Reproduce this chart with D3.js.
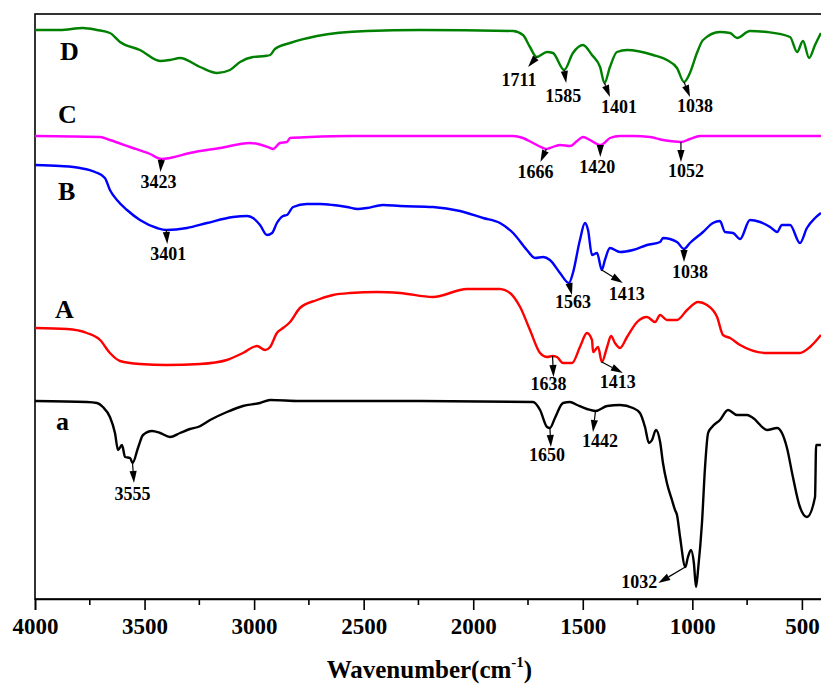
<!DOCTYPE html>
<html>
<head>
<meta charset="utf-8">
<script src="https://cdn.jsdelivr.net/npm/d3@7"></script>
<style>
  html, body { margin: 0; padding: 0; background: #fff; }
  svg { display: block; }
  text { font-family: "Liberation Serif", "Times New Roman", serif; font-weight: bold; fill: #000; }
</style>
</head>
<body>
<svg id="chart" width="821" height="689"></svg>
<script>
// FTIR spectra, offset vertically (transmittance, arbitrary units)
const seriesNames = ["D", "C", "B", "A", "a"];
const seriesColors = ["#008000", "#ff00ff", "#0000ff", "#ff0000", "#000000"];

const wnD = [4000,3886,3781,3717,3658,3612,3521,3429,3384,3338,3247,3169,3110,3064,3005,2950,2927,2905,2836,2713,2485,2243,1818,1773,1741,1711,1663,1636,1585,1545,1499,1458,1421,1401,1376,1344,1298,1179,1116,1070,1038,1011,979,951,874,828,796,737,659,554,522,495,467,440,413];
const tD  = [569,569,571,569,566,557,549,538,539,541,532,526,529,537,542,543,544,550,556,563,568,569,568,564,552,542,547,546,529,546,554,544,532,516,532,547,549,544,539,531,517,526,546,559,567,566,561,568,567,562,547,558,541,554,566];

const wnC = [4000,3703,3658,3566,3475,3423,3384,3293,3156,3019,2982,2927,2914,2882,2850,2836,2745,2562,2243,1818,1773,1727,1681,1666,1650,1604,1558,1526,1499,1467,1435,1420,1408,1376,1330,1271,1193,1134,1102,1052,1011,965,814,413];
const tC  = [463,462,459,452,445,440,441,446,451,456,455,451,450,456,457,461,462,463,463,463,461,456,451,450,451,454,453,458,462,459,455,454,455,461,463,463,462,459,458,457,460,463,463,463];

const wnB = [4000,3886,3795,3726,3681,3658,3626,3580,3521,3443,3401,3306,3215,3096,3032,3005,2973,2941,2918,2896,2868,2850,2822,2759,2699,2640,2576,2526,2485,2412,2334,2184,2060,1955,1878,1818,1755,1718,1681,1650,1604,1563,1545,1513,1490,1476,1458,1435,1413,1399,1376,1330,1271,1207,1147,1134,1070,1038,1011,951,906,874,851,814,782,737,691,645,613,591,554,509,477,440,413];
const tB  = [434,433,431,427,421,409,399,389,379,371,369,371,376,382,383,381,374,364,366,376,383,384,392,395,395,394,392,390,391,394,393,392,388,381,376,366,349,341,342,339,326,316,326,359,376,369,344,346,329,339,351,347,349,354,357,361,357,350,356,367,376,378,367,366,360,379,377,372,367,374,374,356,371,381,386];

const wnA = [4000,3854,3763,3703,3658,3612,3521,3398,3247,3124,3051,2987,2950,2927,2896,2868,2836,2791,2713,2640,2562,2439,2334,2184,2028,1878,1832,1786,1741,1695,1663,1638,1618,1590,1549,1513,1481,1458,1453,1430,1413,1389,1371,1353,1330,1298,1252,1207,1170,1147,1116,1070,1024,974,933,887,860,828,782,659,509,463,413];
const tA  = [271,270,266,259,246,238,235,234,235,239,246,253,249,252,266,271,277,291,299,304,306,307,306,302,310,310,306,292,269,246,242,243,242,236,236,252,266,259,247,252,237,252,263,256,251,262,277,282,277,284,279,279,289,297,294,282,264,261,254,246,246,252,264];

const wna = [4000,3763,3717,3690,3658,3635,3621,3603,3589,3566,3555,3530,3507,3466,3429,3384,3338,3293,3256,3201,3124,3051,2973,2927,2791,2243,1727,1695,1663,1650,1627,1590,1558,1526,1481,1442,1389,1330,1271,1239,1216,1198,1184,1166,1147,1134,1116,1093,1079,1070,1056,1032,1020,1006,993,983,974,956,942,928,910,874,837,796,750,723,659,613,591,568,541,509,477,440,435,413];
const ta  = [198,197,196,192,182,166,149,154,142,141,136,151,164,168,166,162,166,170,172,179,187,193,196,199,198,198,197,189,172,171,181,196,197,194,190,188,193,194,191,186,172,156,159,169,157,136,116,99,89,84,62,32,42,49,36,12,29,76,132,166,172,179,189,184,184,181,169,171,166,151,122,92,82,102,154,154];

// Marked absorption bands
const peakSeries = ["D","D","D","D","C","C","C","C","B","B","B","B","A","A","a","a","a","a"];
const peakWavenumbers = [1711,1585,1401,1038,3423,1666,1420,1052,3401,1563,1413,1038,1638,1413,3555,1650,1442,1032];

// Axis ticks
const majorTicks = [4000,3500,3000,2500,2000,1500,1000,500];
const minorTicks = [3750,3250,2750,2250,1750,1250,750];
const xTitle = "Wavenumber(cm";
const xTitleSup = "-1";

const seriesData = {
  D: wnD.map((w, i) => [w, tD[i]]),
  C: wnC.map((w, i) => [w, tC[i]]),
  B: wnB.map((w, i) => [w, tB[i]]),
  A: wnA.map((w, i) => [w, tA[i]]),
  a: wna.map((w, i) => [w, ta[i]])
};

// ---- layout ----
const svg = d3.select("#chart");
const plot = { left: 35, top: 14, bottom: 599 };
const x = d3.scaleLinear().domain([4000, 400]).range([plot.left, 823.8]);
const y = d3.scaleLinear().domain([0, 585]).range([plot.bottom, plot.top]);

// series letter positions (x, baseline)
const letterPos = { D: [60, 60], C: [58, 123], B: [58, 200], A: [55, 318], a: [56, 430] };

// arrow-end and label offsets from the marked point on the curve
const arrowEnd = [[-8.5,10],[2,13],[5.5,14],[6,15],[-1,13],[-6,13],[0,12],[0,20],[1,14],[3,12],[21,13],[0,13],[1,21],[21,11],[1.5,20],[1,19],[-2.5,21],[-27,16]];
const labelOff = [[-17.5,29],[-1,32],[14.5,30],[11,30],[-3,29],[-11,29],[-3,28],[5,35],[2,30],[4,25],[25,30],[6,29],[-4,34],[16,26],[0,37],[-3,33],[4.5,36],[-46,21]];

// frame
svg.append("rect")
  .attr("x", plot.left).attr("y", plot.top)
  .attr("width", x(400) - plot.left).attr("height", plot.bottom - plot.top)
  .attr("fill", "none").attr("stroke", "#000").attr("stroke-width", 1.6);

// x axis
const axis = svg.append("g").attr("transform", `translate(0,${plot.bottom})`);
axis.call(d3.axisBottom(x).tickValues(majorTicks).tickSize(11).tickPadding(8).tickFormat(d3.format("d")))
  .call(g => g.select(".domain").attr("stroke-width", 1.6))
  .call(g => g.selectAll(".tick line").attr("stroke-width", 1.6))
  .call(g => g.selectAll(".tick text")
      .attr("font-size", 23).attr("font-family", "Liberation Serif, serif")
      .attr("font-weight", "bold").attr("fill", "#000"));
axis.selectAll(".minor").data(minorTicks).enter().append("line")
  .attr("class", "minor")
  .attr("x1", d => x(d)).attr("x2", d => x(d))
  .attr("y1", 0).attr("y2", 6)
  .attr("stroke", "#000").attr("stroke-width", 1.6);

const title = svg.append("text")
  .attr("x", (plot.left + 823.8) / 2).attr("y", 678)
  .attr("text-anchor", "middle").attr("font-size", 25);
title.append("tspan").text(xTitle);
title.append("tspan").attr("font-size", 15).attr("dy", -11).text(xTitleSup);
title.append("tspan").attr("dy", 11).text(")");

// spectra
const line = d3.line().x(d => x(d[0])).y(d => y(d[1])).curve(d3.curveMonotoneX);
seriesNames.forEach((name, i) => {
  svg.append("path")
    .datum(seriesData[name])
    .attr("d", line)
    .attr("fill", "none")
    .attr("stroke", seriesColors[i])
    .attr("stroke-width", 2.4)
    .attr("stroke-linejoin", "round");
  svg.append("text")
    .attr("x", letterPos[name][0]).attr("y", letterPos[name][1])
    .attr("font-size", 26).text(name);
});

// value of a spectrum at a given wavenumber
function valueAt(name, wn) {
  const d = seriesData[name];
  for (let i = 0; i < d.length - 1; i++) {
    const a = d[i], b = d[i + 1];
    if (wn <= a[0] && wn >= b[0]) {
      const t = (a[0] - wn) / (a[0] - b[0] || 1);
      return a[1] + t * (b[1] - a[1]);
    }
  }
  return d[d.length - 1][1];
}

// band annotations: arrow from the curve to the label
const ann = svg.append("g");
peakWavenumbers.forEach((wn, i) => {
  const sx = x(wn), sy = y(valueAt(peakSeries[i], wn));
  const ex = sx + arrowEnd[i][0], ey = sy + arrowEnd[i][1];
  const dx = ex - sx, dy = ey - sy, len = Math.hypot(dx, dy);
  const ux = dx / len, uy = dy / len;
  const head = Math.min(12, len), hw = 3.6;
  const bx = ex - ux * head, by = ey - uy * head;
  ann.append("line")
    .attr("x1", sx).attr("y1", sy).attr("x2", bx).attr("y2", by)
    .attr("stroke", "#000").attr("stroke-width", 1.2);
  ann.append("path")
    .attr("d", `M${ex},${ey}L${bx - uy * hw},${by + ux * hw}L${bx + uy * hw},${by - ux * hw}Z`)
    .attr("fill", "#000");
  ann.append("text")
    .attr("x", sx + labelOff[i][0]).attr("y", sy + labelOff[i][1])
    .attr("text-anchor", "middle").attr("font-size", 18)
    .text(String(wn));
});
</script>
</body>
</html>
